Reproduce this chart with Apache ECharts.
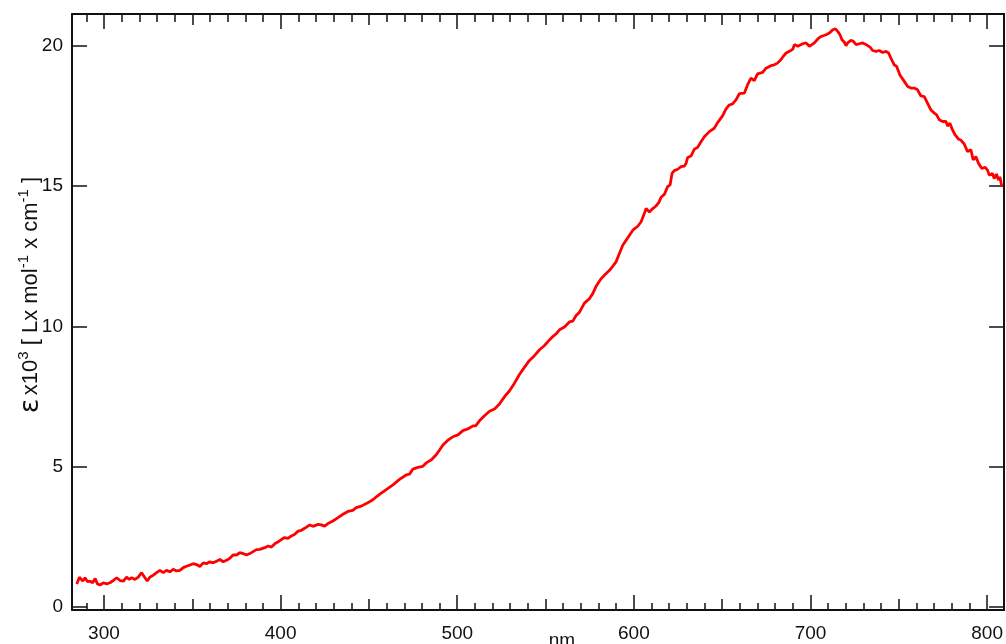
<!DOCTYPE html>
<html>
<head>
<meta charset="utf-8">
<title>Absorption spectrum</title>
<script src="https://cdn.jsdelivr.net/npm/echarts@6/dist/echarts.min.js"></script>
<style>
  html, body { margin: 0; padding: 0; background: #ffffff; }
  #chart { width: 1006px; height: 644px; }
</style>
</head>
<body>
<div id="chart"></div>
<script>
// Wavelength (nm) of each sample
const wavelength = [
  284.6, 286.1, 288.0, 289.3, 290.6, 292.1, 293.6, 295.0, 296.3, 297.8,
  299.6, 301.5, 303.4, 305.3, 307.2, 309.1, 311.0, 312.8, 314.3, 315.7,
  317.6, 319.4, 321.3, 323.2, 324.5, 326.0, 327.9, 329.8, 331.7, 333.6,
  335.4, 337.3, 339.2, 341.1, 343.0, 344.9, 346.7, 348.6, 350.5, 352.4,
  354.3, 356.2, 358.0, 359.9, 361.8, 363.7, 365.6, 367.5, 369.4, 371.2,
  373.1, 375.0, 376.9, 378.8, 380.7, 382.6, 384.4, 386.3, 388.2, 391.0,
  392.9, 394.8, 396.7, 398.6, 400.4, 402.3, 404.2, 406.1, 408.0, 409.9,
  411.8, 413.6, 416.5, 418.3, 421.2, 423.0, 424.9, 426.8, 429.6, 432.5,
  435.3, 438.1, 440.9, 442.8, 445.7, 448.5, 451.3, 453.2, 456.0, 459.8,
  463.6, 467.3, 471.1, 473.0, 474.9, 477.7, 480.5, 482.4, 485.2, 488.1,
  490.0, 491.9, 494.7, 497.5, 500.4, 503.2, 506.0, 508.9, 510.4, 512.6,
  515.4, 518.3, 521.1, 523.9, 526.8, 529.6, 532.4, 535.2, 538.1, 540.9,
  543.7, 546.6, 549.4, 552.2, 554.1, 556.0, 557.9, 560.7, 563.5, 565.4,
  567.3, 569.2, 572.0, 574.8, 576.7, 578.6, 581.4, 583.3, 586.2, 588.0,
  589.9, 591.8, 593.7, 595.6, 597.5, 599.4, 602.2, 604.1, 605.9, 606.9,
  608.8, 610.7, 612.5, 614.1, 615.4, 617.3, 619.1, 620.5, 621.6, 622.9,
  624.8, 626.7, 628.6, 629.5, 630.5, 632.3, 634.2, 636.1, 638.0, 639.9,
  642.7, 645.5, 647.4, 650.2, 652.1, 654.0, 655.9, 657.8, 659.7, 662.5,
  664.4, 666.3, 668.2, 670.0, 672.9, 674.8, 677.6, 679.5, 681.3, 683.2,
  684.3, 686.2, 688.1, 690.0, 690.9, 692.8, 693.7, 695.6, 697.5, 699.4,
  700.3, 702.2, 704.1, 706.0, 708.8, 710.7, 712.6, 714.1, 715.4, 716.7,
  717.8, 719.2, 720.1, 721.0, 722.9, 724.2, 725.8, 727.6, 729.5, 731.4,
  732.4, 733.7, 735.2, 737.1, 738.9, 740.8, 742.7, 744.2, 745.5, 747.4,
  748.8, 749.9, 750.6, 753.1, 755.0, 756.9, 758.7, 760.6, 762.5, 764.4,
  766.3, 768.2, 770.1, 771.4, 772.9, 774.8, 776.7, 777.6, 778.9, 780.4,
  781.9, 783.8, 785.1, 787.0, 788.9, 790.8, 792.1, 793.6, 795.1, 797.0,
  798.9, 800.2, 801.2, 803.0, 804.0, 805.3, 806.4, 807.2, 808.3
];

// Molar absorptivity, in units of 10^3 L mol^-1 cm^-1
const epsilon = [
  0.83, 1.07, 0.93, 1.05, 0.91, 0.93, 0.87, 1.02, 0.83, 0.79,
  0.87, 0.83, 0.87, 0.95, 1.05, 0.95, 0.93, 1.07, 0.99, 1.05,
  0.99, 1.07, 1.23, 1.05, 0.93, 1.07, 1.14, 1.23, 1.31, 1.23,
  1.31, 1.26, 1.35, 1.29, 1.31, 1.41, 1.46, 1.50, 1.55, 1.52,
  1.45, 1.58, 1.55, 1.62, 1.58, 1.64, 1.70, 1.62, 1.67, 1.74,
  1.86, 1.86, 1.94, 1.91, 1.86, 1.91, 1.98, 2.05, 2.06, 2.12,
  2.18, 2.14, 2.26, 2.33, 2.41, 2.48, 2.45, 2.54, 2.60, 2.71,
  2.74, 2.81, 2.93, 2.88, 2.95, 2.93, 2.89, 2.98, 3.07, 3.19,
  3.31, 3.41, 3.45, 3.55, 3.60, 3.69, 3.79, 3.88, 4.02, 4.19,
  4.36, 4.55, 4.71, 4.74, 4.92, 4.98, 5.02, 5.14, 5.24, 5.43,
  5.60, 5.78, 5.95, 6.07, 6.14, 6.29, 6.35, 6.46, 6.46, 6.64,
  6.82, 6.98, 7.06, 7.24, 7.50, 7.71, 7.98, 8.29, 8.55, 8.79,
  8.96, 9.17, 9.32, 9.52, 9.64, 9.74, 9.88, 9.98, 10.16, 10.19,
  10.39, 10.51, 10.83, 10.99, 11.17, 11.43, 11.70, 11.82, 12.00, 12.14,
  12.30, 12.60, 12.89, 13.07, 13.25, 13.43, 13.57, 13.73, 14.02, 14.20,
  14.08, 14.20, 14.29, 14.41, 14.60, 14.71, 14.98, 15.04, 15.45, 15.55,
  15.60, 15.69, 15.71, 15.81, 16.02, 16.07, 16.31, 16.38, 16.58, 16.76,
  16.94, 17.06, 17.26, 17.50, 17.74, 17.89, 17.93, 18.07, 18.29, 18.31,
  18.61, 18.85, 18.76, 19.00, 19.05, 19.20, 19.29, 19.32, 19.38, 19.50,
  19.60, 19.74, 19.80, 19.88, 20.04, 19.98, 19.92, 20.07, 20.10, 19.98,
  19.92, 20.10, 20.24, 20.33, 20.39, 20.45, 20.57, 20.60, 20.51, 20.39,
  20.21, 20.12, 20.00, 20.10, 20.19, 20.16, 20.04, 20.07, 20.10, 20.04,
  20.07, 19.95, 19.83, 19.80, 19.83, 19.76, 19.80, 19.74, 19.56, 19.32,
  19.26, 19.32, 18.96, 18.73, 18.55, 18.49, 18.49, 18.43, 18.21, 18.19,
  17.95, 17.71, 17.60, 17.54, 17.36, 17.30, 17.30, 17.14, 17.24, 17.00,
  16.82, 16.67, 16.64, 16.50, 16.23, 16.29, 15.93, 16.05, 15.81, 15.63,
  15.67, 15.57, 15.39, 15.45, 15.27, 15.43, 15.21, 15.33, 14.98
];

// Axis ranges and tick positions
const xRange = [281.9, 809.6];
const yRange = [-0.1, 21.13];
const xLabelTicks = [300, 400, 500, 600, 700, 800];
const xHalfTicks = [350, 450, 550, 650, 750];
const xMinorTicks = [
  290, 310, 320, 330, 340, 360, 370, 380, 390, 410, 420, 430, 440,
  460, 470, 480, 490, 510, 520, 530, 540, 560, 570, 580, 590, 610,
  620, 630, 640, 660, 670, 680, 690, 710, 720, 730, 740, 760, 770,
  780, 790
];
const yTicks = [0, 5, 10, 15, 20];

const FONT = '"Liberation Sans", Arial, Helvetica, sans-serif';
const AXIS_COLOR = '#111111';

// One x axis layer: a set of inward ticks of a given length, optionally with line and labels
function xLayer(position, ticks, len, withLine, labels) {
  return {
    type: 'value',
    position: position,
    min: xRange[0],
    max: xRange[1],
    splitLine: { show: false },
    axisLine: { show: withLine, onZero: false, lineStyle: { color: AXIS_COLOR, width: 2 } },
    axisTick: {
      show: true, inside: true, length: len, customValues: ticks,
      lineStyle: { color: AXIS_COLOR, width: 1.5 }
    },
    axisLabel: labels ? {
      show: true, customValues: labels, margin: 14,
      color: '#111111', fontSize: 19, fontFamily: FONT
    } : { show: false }
  };
}

function yLayer(position, withLabels) {
  return {
    type: 'value',
    position: position,
    min: yRange[0],
    max: yRange[1],
    splitLine: { show: false },
    axisLine: { show: true, onZero: false, lineStyle: { color: AXIS_COLOR, width: 2 } },
    axisTick: {
      show: true, inside: true, length: 15, customValues: yTicks,
      lineStyle: { color: AXIS_COLOR, width: 1.5 }
    },
    axisLabel: withLabels ? {
      show: true, customValues: yTicks, margin: 9,
      color: '#111111', fontSize: 19, fontFamily: FONT
    } : { show: false }
  };
}

const chart = echarts.init(document.getElementById('chart'), null, { renderer: 'canvas' });

chart.setOption({
  animation: false,
  backgroundColor: '#ffffff',
  grid: { left: 72, right: 1.5, top: 14, bottom: 34, containLabel: false },
  xAxis: [
    xLayer('bottom', xLabelTicks, 15, true, xLabelTicks),
    xLayer('bottom', xHalfTicks, 11, false, null),
    xLayer('bottom', xMinorTicks, 7, false, null),
    xLayer('top', xLabelTicks, 15, true, null),
    xLayer('top', xHalfTicks, 11, false, null),
    xLayer('top', xMinorTicks, 8, false, null)
  ],
  yAxis: [
    yLayer('left', true),
    yLayer('right', false)
  ],
  series: [{
    type: 'line',
    xAxisIndex: 0,
    yAxisIndex: 0,
    data: wavelength.map((w, i) => [w, epsilon[i]]),
    showSymbol: false,
    symbol: 'none',
    lineStyle: { color: '#ff0000', width: 2.8 },
    clip: true
  }],
  graphic: [
    {
      type: 'text',
      x: 31,
      y: 295,
      rotation: Math.PI / 2,
      style: {
        text: '{eps|ε} {t|x10}{sup|3}{t| [ Lx mol}{sup|-1}{t| x cm}{sup|-1}{t| ]}',
        align: 'center',
        verticalAlign: 'middle',
        fill: '#111111',
        rich: {
          eps: { fontFamily: '"DejaVu Sans", sans-serif', fontSize: 27, lineHeight: 29, fill: '#111111' },
          t: { fontFamily: FONT, fontSize: 22, lineHeight: 29, fill: '#111111' },
          sup: { fontFamily: FONT, fontSize: 15, lineHeight: 15, verticalAlign: 'top', fill: '#111111' }
        }
      }
    },
    {
      type: 'text',
      x: 562,
      y: 641,
      style: {
        text: 'nm',
        align: 'center',
        verticalAlign: 'middle',
        fill: '#111111',
        font: '19px ' + FONT
      }
    }
  ]
});
</script>
</body>
</html>
